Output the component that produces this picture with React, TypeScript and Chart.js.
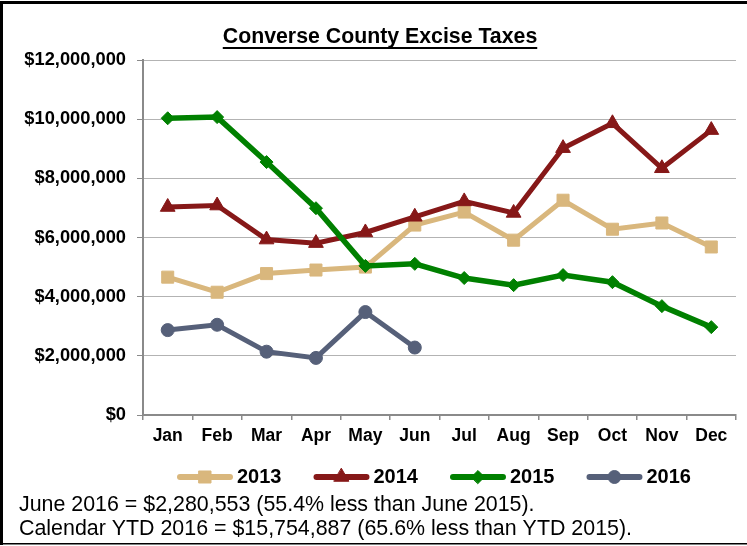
import React, { useEffect, useRef } from 'react';
import { Chart, registerables } from 'chart.js';
import { drawPoint } from 'chart.js/helpers';

Chart.register(...registerables);

const months = ['Jan', 'Feb', 'Mar', 'Apr', 'May', 'Jun', 'Jul', 'Aug', 'Sep', 'Oct', 'Nov', 'Dec'];
const seriesNames = ['2013', '2014', '2015', '2016'];
const values2013 = [4660000, 4150000, 4780000, 4900000, 5000000, 6420000, 6860000, 5910000, 7260000, 6280000, 6490000, 5680000];
const values2014 = [7030000, 7080000, 5930000, 5810000, 6170000, 6700000, 7220000, 6830000, 9020000, 9860000, 8340000, 9630000];
const values2015 = [10030000, 10070000, 8550000, 6990000, 5040000, 5110000, 4630000, 4390000, 4730000, 4490000, 3680000, 2970000];
const values2016 = [2870000, 3050000, 2140000, 1930000, 3480000, 2280000];
const seriesColors = ['#D9B77D', '#861818', '#008000', '#566079'];
const pointStyles = ['rect', 'triangle', 'rectRot', 'circle'];
const pointRadii = [8.5, 8.5, 6.5, 6.5];
const yMin = 0;
const yMax = 12000000;
const yStep = 2000000;
const titleText = 'Converse County Excise Taxes';
const footerLines = [
  'June 2016 = $2,280,553 (55.4% less than June 2015).',
  'Calendar YTD 2016 = $15,754,887 (65.6% less than YTD 2015).',
];

const FONT = '"Liberation Sans", Arial, Helvetica, sans-serif';

const decorPlugin = {
  id: 'decor',
  beforeDraw(chart: any) {
    const ctx = chart.ctx;
    ctx.save();
    ctx.fillStyle = '#ffffff';
    ctx.fillRect(0, 0, chart.width, chart.height);
    ctx.restore();
  },
  afterDraw(chart: any) {
    const ctx = chart.ctx;
    ctx.save();
    ctx.fillStyle = '#000';
    // title
    ctx.font = `bold 21.3px ${FONT}`;
    ctx.textAlign = 'center';
    ctx.textBaseline = 'middle';
    const cx = 380;
    ctx.fillText(titleText, cx, 37);
    const tw = ctx.measureText(titleText).width;
    ctx.fillRect(cx - tw / 2, 47, tw, 2);

    // legend
    ctx.font = `bold 20px ${FONT}`;
    ctx.textAlign = 'left';
    let x = 177;
    const ly = 477;
    chart.data.datasets.forEach((ds: any) => {
      ctx.strokeStyle = ds.borderColor;
      ctx.lineWidth = 6;
      ctx.lineCap = 'round';
      ctx.beginPath();
      ctx.moveTo(x + 3, ly);
      ctx.lineTo(x + 53, ly);
      ctx.stroke();
      ctx.fillStyle = ds.borderColor;
      ctx.lineWidth = 1;
      drawPoint(ctx, { pointStyle: ds.pointStyle, radius: ds.pointRadius, rotation: 0, borderWidth: 1 } as any, x + 28, ly);
      ctx.fillStyle = '#000';
      ctx.fillText(ds.label, x + 60, ly);
      const w = ctx.measureText(ds.label).width;
      x = x + 60 + w + 32;
    });

    // footer
    ctx.font = `21.4px ${FONT}`;
    ctx.fillStyle = '#000';
    ctx.fillText(footerLines[0], 19, 505);
    ctx.fillText(footerLines[1], 19, 529);

    // border
    ctx.fillRect(0, 1, 3, 544);
    ctx.fillRect(0, 1, chart.width, 3);
    ctx.fillRect(0, 543, chart.width, 1.5);
    ctx.restore();
  },
};

export default function App() {
  const ref = useRef<HTMLCanvasElement | null>(null);
  useEffect(() => {
    if (!ref.current) return;
    const all = [values2013, values2014, values2015, values2016];
    const chart = new Chart(ref.current, {
      type: 'line',
      data: {
        labels: months,
        datasets: all.map((vals, i) => ({
          label: seriesNames[i],
          data: vals,
          borderColor: seriesColors[i],
          backgroundColor: seriesColors[i],
          pointBackgroundColor: seriesColors[i],
          pointBorderColor: seriesColors[i],
          borderWidth: i === 2 ? 5.5 : 5,
          pointStyle: pointStyles[i] as any,
          pointRadius: pointRadii[i],
          pointBorderWidth: 1,
          tension: 0,
          fill: false,
          order: 3 - i,
        })),
      },
      options: {
        responsive: false,
        animation: false,
        devicePixelRatio: 1,
        layout: { padding: { top: 60, right: 11, bottom: 0, left: 0 } },
        plugins: {
          legend: { display: false },
          title: { display: false },
          tooltip: { enabled: false },
        },
        scales: {
          x: {
            offset: true,
            grid: {
              offset: true,
              drawOnChartArea: false,
              color: '#8a8a8a',
              tickColor: '#8a8a8a',
              tickLength: 5,
              lineWidth: 1.5,
            },
            border: { color: '#8a8a8a', width: 2 },
            ticks: {
              color: '#000',
              font: { family: FONT, size: 17.5, weight: 'bold' },
              padding: 6,
              maxRotation: 0,
              autoSkip: false,
            },
            afterFit: (s: any) => { s.height = 131; },
          },
          y: {
            min: yMin,
            max: yMax,
            grid: {
              color: '#b3b3b3',
              tickColor: '#8a8a8a',
              tickLength: 6,
              lineWidth: 1,
            },
            border: { color: '#8a8a8a', width: 2 },
            ticks: {
              stepSize: yStep,
              color: '#000',
              font: { family: FONT, size: 18.3, weight: 'bold' },
              padding: 11,
              callback: (v: any) => '$' + Number(v).toLocaleString('en-US'),
            },
            afterFit: (s: any) => { s.width = 143; },
          },
        },
      },
      plugins: [decorPlugin],
    });
    return () => chart.destroy();
  }, []);
  return (
    <div style={{ position: 'absolute', left: 0, top: 0, width: 747, height: 546 }}>
      <canvas ref={ref} width={747} height={546} />
    </div>
  );
}
